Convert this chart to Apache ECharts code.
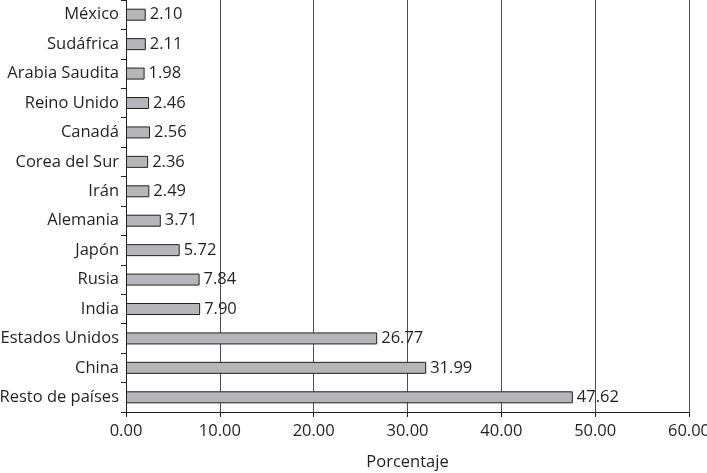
<!DOCTYPE html>
<html><head><meta charset="utf-8">
<script src="https://cdn.jsdelivr.net/npm/echarts@6/dist/echarts.min.js"></script>
<style>html,body{margin:0;padding:0;background:#fff}#c{width:707px;height:473px}</style>
</head><body><div id="c"></div>
<script>
const categories = ['México','Sudáfrica','Arabia Saudita','Reino Unido','Canadá','Corea del Sur','Irán','Alemania','Japón','Rusia','India','Estados Unidos','China','Resto de países'];
const values = [2.10,2.11,1.98,2.46,2.56,2.36,2.49,3.71,5.72,7.84,7.90,26.77,31.99,47.62];
const xTicks = [0,10,20,30,40,50,60];
const axisName = 'Porcentaje';

const chart = echarts.init(document.getElementById('c'), null, {renderer:'canvas'});
const FONT = 'Open Sans';
const FS = 16.5;
const TXT = '#231f20';
chart.setOption({
  animation:false,
  grid:{left:126, right:18, top:0, bottom:61, containLabel:false, outerBoundsMode:'none'},
  xAxis:{
    type:'value', min:xTicks[0], max:xTicks[xTicks.length-1], interval:10,
    name:axisName, nameLocation:'middle', nameGap:42,
    nameTextStyle:{fontFamily:FONT, fontSize:FS, color:TXT},
    axisLine:{show:true, lineStyle:{color:TXT, width:1}},
    axisTick:{show:true, length:5, lineStyle:{color:TXT}},
    axisLabel:{fontFamily:FONT, fontSize:FS, color:TXT, margin:11, formatter:v=>v.toFixed(2)},
    splitLine:{show:true, lineStyle:{color:'#4d4d4d', width:1}}
  },
  yAxis:{
    type:'category', data:categories, inverse:true,
    axisLine:{show:true, lineStyle:{color:TXT, width:1}},
    axisTick:{show:true, length:5, lineStyle:{color:TXT}},
    axisLabel:{fontFamily:FONT, fontSize:FS, color:TXT, margin:7},
    splitLine:{show:false}
  },
  series:[{
    type:'bar', data:values, barWidth:12,
    itemStyle:{color:'#b4b6b9', borderColor:'#231f20', borderWidth:1},
    label:{show:true, position:'right', distance:4, fontFamily:FONT, fontSize:FS, color:TXT, formatter:p=>p.value.toFixed(2)}
  }]
});
</script></body></html>
